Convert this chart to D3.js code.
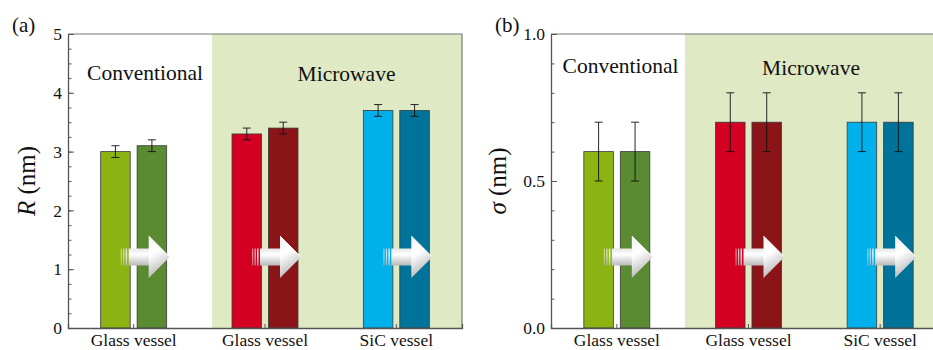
<!DOCTYPE html>
<html>
<head>
<meta charset="utf-8">
<script src="https://cdn.jsdelivr.net/npm/d3@7"></script>
<style>
  body { margin: 0; background: #fff; }
  svg { display: block; }
  svg text { font-family: 'Liberation Serif', 'DejaVu Serif', serif; fill: #111; }
  .axis path, .axis line { stroke: #555; }
</style>
</head>
<body>
<svg id="chart" width="933" height="350"></svg>
<script>
const groups = ['Glass vessel', 'Glass vessel', 'SiC vessel']
const pairs = ['before', 'after']
const methods = ['Conventional', 'Microwave']

const rValues = [3.0, 3.1, 3.3, 3.4, 3.7, 3.7]
const rErrors = [0.1, 0.1, 0.1, 0.1, 0.1, 0.1]
const rTicks = [0, 1, 2, 3, 4, 5]

const sigmaValues = [0.6, 0.6, 0.7, 0.7, 0.7, 0.7]
const sigmaErrors = [0.1, 0.1, 0.1, 0.1, 0.1, 0.1]
const sigmaTicks = [0.0, 0.5, 1.0]

const barColors = ['#8bb312', '#5a8a32', '#d30021', '#8b1419', '#00b0eb', '#00739a']

const SERIF = "'Liberation Serif', 'DejaVu Serif', serif"
const dimensions = { w: 394, h: 294 }

const svg = d3.select('#chart')

const defs = svg.append('defs')

const shaftGrad = defs.append('linearGradient')
  .attr('id', 'shaft')
  .attr('x1', 0).attr('y1', 0).attr('x2', 0).attr('y2', 1)
shaftGrad.append('stop').attr('offset', '0%').attr('stop-color', '#e6e6e6')
shaftGrad.append('stop').attr('offset', '35%').attr('stop-color', '#ffffff')
shaftGrad.append('stop').attr('offset', '100%').attr('stop-color', '#b9b9b9')

const headGrad = defs.append('linearGradient')
  .attr('id', 'head')
  .attr('x1', 0).attr('y1', 0).attr('x2', 0.3).attr('y2', 1)
headGrad.append('stop').attr('offset', '0%').attr('stop-color', '#f2f2f2')
headGrad.append('stop').attr('offset', '45%').attr('stop-color', '#ffffff')
headGrad.append('stop').attr('offset', '100%').attr('stop-color', '#b5b5b5')

const drawArrow = (g, cx, cy) => {
  const a = g.append('g').attr('transform', `translate(${cx}, ${cy})`)
  // tail stripes
  ;[[-19, 1.2, 0.55], [-16.5, 1.2, 0.75], [-14, 1.5, 0.9]].forEach(([x, w, o]) => {
    a.append('rect')
      .attr('x', x).attr('y', -8.5)
      .attr('width', w).attr('height', 17)
      .attr('fill', 'url(#shaft)')
      .attr('opacity', o)
  })
  a.append('path')
    .attr('d', 'M-11,-8.5 L10,-8.5 L10,8.5 L-11,8.5 Z')
    .attr('fill', 'url(#shaft)')
  a.append('path')
    .attr('d', 'M9,-21 L30,0 L9,21 Z')
    .attr('fill', 'url(#head)')
  a.append('path')
    .attr('d', 'M9,-21 L30,0')
    .attr('stroke', '#ffffff')
    .attr('stroke-width', 1)
}

const drawPanel = (opts) => {
  const chart = svg.append('g')
    .attr('transform', `translate(${opts.left}, ${opts.top})`)

  const x = d3.scaleBand()
    .domain(d3.range(groups.length))
    .range([0, opts.width])

  const inner = d3.scaleBand()
    .domain(pairs)
    .range([-33, 33])
    .paddingInner(0.19)

  const y = d3.scaleLinear()
    .domain(opts.domain)
    .range([dimensions.h, 0])

  // microwave background
  const bgX = x.step() * opts.bgStart
  chart.append('rect')
    .attr('x', bgX)
    .attr('y', 0)
    .attr('width', opts.width - bgX)
    .attr('height', dimensions.h)
    .attr('fill', '#dfeac4')

  // method labels
  methods.forEach((m, i) => {
    chart.append('text')
      .attr('x', opts.methodX[i])
      .attr('y', opts.methodY[i])
      .attr('text-anchor', 'middle')
      .attr('font-family', SERIF)
      .style('font-size', '21.5px')
      .text(m)
  })

  const bars = opts.values.map((v, i) => ({
    value: v,
    err: opts.errors[i],
    group: Math.floor(i / 2),
    pair: pairs[i % 2],
    color: barColors[i]
  }))

  const xPos = d => x(d.group) + x.bandwidth() / 2 + inner(d.pair)

  chart.selectAll('rect.bar')
    .data(bars)
    .join('rect')
    .attr('class', 'bar')
    .attr('x', xPos)
    .attr('y', d => y(d.value))
    .attr('width', inner.bandwidth())
    .attr('height', d => y(opts.domain[0]) - y(d.value))
    .attr('fill', d => d.color)
    .attr('stroke', '#3a3a3a')
    .attr('stroke-width', 0.8)

  // error bars
  const eb = chart.selectAll('g.err')
    .data(bars)
    .join('g')
    .attr('class', 'err')
    .attr('transform', d => `translate(${xPos(d) + inner.bandwidth() / 2}, 0)`)
    .attr('stroke', '#111')
    .attr('stroke-width', 0.9)
  eb.append('line')
    .attr('y1', d => y(d.value - d.err))
    .attr('y2', d => y(d.value + d.err))
  eb.append('line')
    .attr('x1', -4).attr('x2', 4)
    .attr('y1', d => y(d.value - d.err))
    .attr('y2', d => y(d.value - d.err))
  eb.append('line')
    .attr('x1', -4).attr('x2', 4)
    .attr('y1', d => y(d.value + d.err))
    .attr('y2', d => y(d.value + d.err))

  // arrows
  d3.range(groups.length).forEach(i => {
    drawArrow(chart, x(i) + x.bandwidth() / 2 + 6, opts.arrowY)
  })

  // frame (top + right)
  chart.append('path')
    .attr('d', `M0,0 H${opts.width} V${dimensions.h}`)
    .attr('fill', 'none')
    .attr('stroke', '#777')
    .attr('stroke-width', 1.2)

  // axes
  chart.append('g')
    .attr('class', 'axis')
    .call(d3.axisRight(y)
      .tickValues(d3.range(opts.domain[0], opts.domain[1] + 1e-9, opts.minor))
      .tickSize(3.5)
      .tickFormat(''))
    .call(g => g.select('.domain').remove())

  chart.append('g')
    .attr('class', 'axis')
    .call(d3.axisLeft(y)
      .tickValues(opts.ticks)
      .tickSize(0)
      .tickPadding(6)
      .tickFormat(opts.format))
    .attr('font-family', SERIF)
    .attr('font-size', 17.5)
    .call(g => g.select('.domain').attr('stroke-width', 1.3))

  chart.append('g')
    .attr('class', 'axis')
    .call(d3.axisRight(y)
      .tickValues(opts.ticks)
      .tickSize(6)
      .tickFormat(''))
    .call(g => g.select('.domain').remove())

  chart.append('g')
    .attr('class', 'axis')
    .attr('transform', `translate(0, ${dimensions.h})`)
    .call(d3.axisTop(x)
      .tickSize(4)
      .tickFormat(''))
    .call(g => g.select('.domain').attr('stroke-width', 1.3))

  chart.append('g')
    .attr('transform', `translate(0, ${dimensions.h})`)
    .selectAll('text')
    .data(groups)
    .join('text')
    .attr('x', (d, i) => x(i) + x.bandwidth() / 2)
    .attr('y', 18)
    .attr('text-anchor', 'middle')
    .attr('font-family', SERIF)
    .style('font-size', '17.5px')
    .text(d => d)

  // axis title
  const title = chart.append('text')
    .attr('transform', `translate(${opts.titleX}, ${dimensions.h / 2}) rotate(-90)`)
    .attr('text-anchor', 'middle')
    .attr('font-family', SERIF)
    .style('font-size', '25px')
  title.append('tspan').style('font-style', 'italic').text(opts.symbol)
  title.append('tspan').text(' (nm)')

  // panel letter
  svg.append('text')
    .attr('x', opts.left - 56)
    .attr('y', 32)
    .attr('font-family', SERIF)
    .style('font-size', '21px')
    .text(opts.letter)
}

drawPanel({
  left: 68,
  top: 34,
  width: dimensions.w,
  domain: [0, 5],
  ticks: rTicks,
  minor: 0.25,
  format: d3.format('d'),
  values: rValues,
  errors: rErrors,
  bgStart: 1.097,
  methodX: [77, 278.5],
  methodY: [46, 47],
  arrowY: 223,
  titleX: -33,
  symbol: 'R',
  letter: '(a)'
})

drawPanel({
  left: 551,
  top: 34,
  width: 395,
  domain: [0, 1],
  ticks: sigmaTicks,
  minor: 0.1,
  format: d3.format('.1f'),
  values: sigmaValues,
  errors: sigmaErrors,
  bgStart: 1.017,
  methodX: [69.5, 260],
  methodY: [39, 41],
  arrowY: 223,
  titleX: -45,
  symbol: 'σ',
  letter: '(b)'
})
</script>
</body>
</html>
